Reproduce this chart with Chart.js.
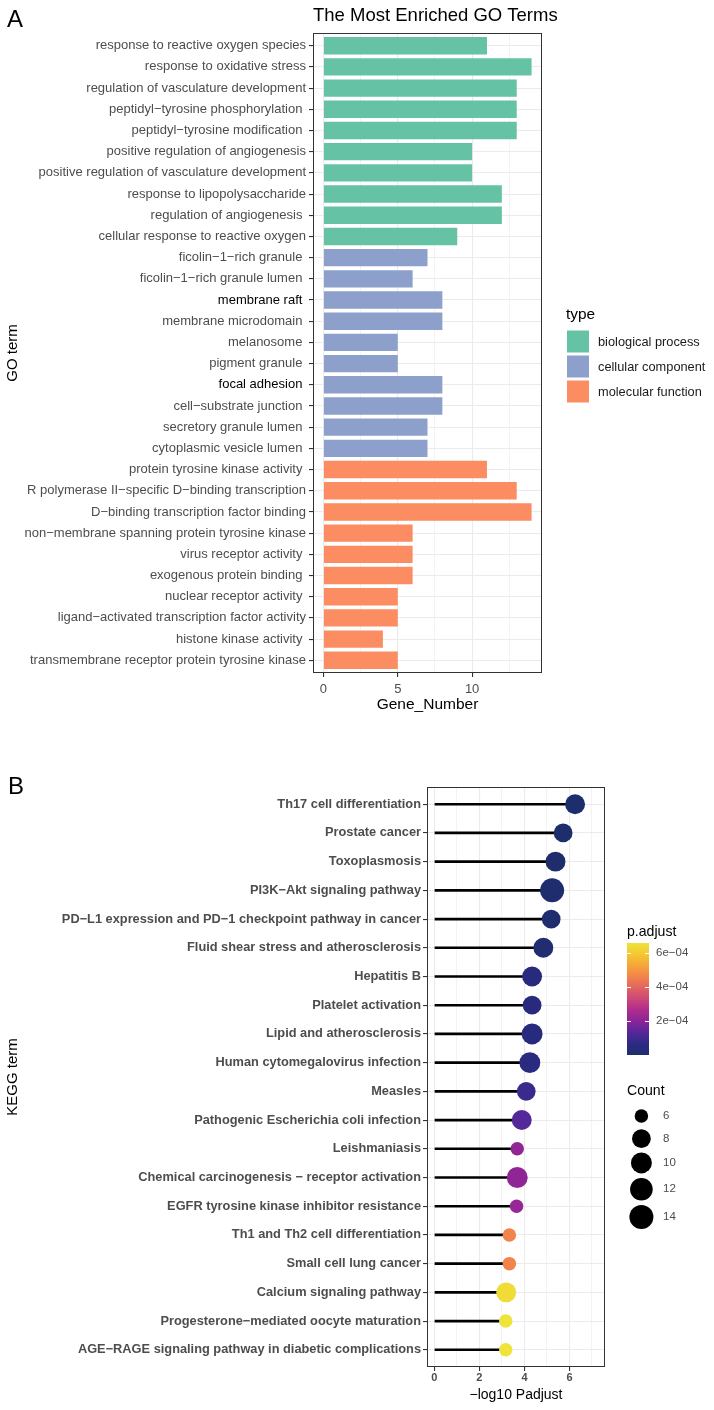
<!DOCTYPE html>
<html><head><meta charset="utf-8">
<script src="https://cdn.jsdelivr.net/npm/chart.js@4/dist/chart.umd.min.js"></script>
<style>
html,body{margin:0;padding:0;background:#fff;}
canvas{position:absolute;left:0;display:block;}
#cA{top:0;}
#cB{top:740px;}
</style></head><body>
<canvas id="cA" width="714" height="740"></canvas>
<canvas id="cB" width="714" height="670"></canvas>
<script>
// ---------------- DATA ----------------
const M = '\u2212';
const goTerms = [
  'response to reactive oxygen species','response to oxidative stress','regulation of vasculature development',
  'peptidyl'+M+'tyrosine phosphorylation ','peptidyl'+M+'tyrosine modification ','positive regulation of angiogenesis',
  'positive regulation of vasculature development','response to lipopolysaccharide','regulation of angiogenesis ',
  'cellular response to reactive oxygen','ficolin'+M+'1'+M+'rich granule ','ficolin'+M+'1'+M+'rich granule lumen ',
  'membrane raft ','membrane microdomain ','melanosome ','pigment granule ','focal adhesion ',
  'cell'+M+'substrate junction ','secretory granule lumen ','cytoplasmic vesicle lumen ',
  'protein tyrosine kinase activity ','R polymerase II'+M+'specific D'+M+'binding transcription',
  'D'+M+'binding transcription factor binding','non'+M+'membrane spanning protein tyrosine kinase',
  'virus receptor activity ','exogenous protein binding ','nuclear receptor activity ',
  'ligand'+M+'activated transcription factor activity','histone kinase activity ',
  'transmembrane receptor protein tyrosine kinase'
];
const goGeneNumber = [11,14,13,13,13,10,10,12,12,9, 7,6,8,8,5,5,8,8,7,7, 11,13,14,6,6,6,5,5,4,5];
const goType = [0,0,0,0,0,0,0,0,0,0, 1,1,1,1,1,1,1,1,1,1, 2,2,2,2,2,2,2,2,2,2];
const typeNames = ['biological process','cellular component','molecular function'];
const goXTicks = [0,5,10];
const goXMinor = [2.5,7.5,12.5];

const keggTerms = [
  'Th17 cell differentiation','Prostate cancer','Toxoplasmosis','PI3K'+M+'Akt signaling pathway',
  'PD'+M+'L1 expression and PD'+M+'1 checkpoint pathway in cancer','Fluid shear stress and atherosclerosis',
  'Hepatitis B','Platelet activation','Lipid and atherosclerosis','Human cytomegalovirus infection','Measles',
  'Pathogenic Escherichia coli infection','Leishmaniasis','Chemical carcinogenesis '+M+' receptor activation',
  'EGFR tyrosine kinase inhibitor resistance','Th1 and Th2 cell differentiation','Small cell lung cancer',
  'Calcium signaling pathway','Progesterone'+M+'mediated oocyte maturation',
  'AGE'+M+'RAGE signaling pathway in diabetic complications'
];
const keggNegLog10Padj = [6.25,5.72,5.38,5.23,5.19,4.84,4.34,4.34,4.34,4.24,4.08,3.88,3.68,3.68,3.65,3.33,3.33,3.19,3.17,3.17];
const keggPadjust = [5.6e-7,1.9e-6,4.2e-6,5.9e-6,6.5e-6,1.4e-5,4.6e-5,4.6e-5,4.6e-5,5.8e-5,9.0e-5,1.3e-4,2.1e-4,2.1e-4,2.2e-4,4.6e-4,4.6e-4,6.4e-4,6.6e-4,6.6e-4];
const keggCount = [9,8,9,14,8,9,9,8,10,10,8,9,6,10,6,6,6,9,6,6];
const keggXTicks = [0,2,4,6];
const keggXMinor = [1,3,5,7];
const countBreaks = [6,8,10,12,14];
const padjBreaks = [2e-4,4e-4,6e-4];
const padjBreakLabels = ['2e'+M+'04','4e'+M+'04','6e'+M+'04'];

// ---------------- STYLE ----------------
const FONT = "'Liberation Sans', Arial, Helvetica, sans-serif";
Chart.defaults.font.family = FONT;
const typeColors = ['#66C2A5','#8DA0CB','#FC8D62'];
const darkLabels = new Set(['membrane raft ','focal adhesion ']);
const GRID = '#EBEBEB', TICK = '#333333', AXT = '#4D4D4D';
const gradStops = [[0,'#1E2D6C'],[0.1,'#2D2A84'],[0.2,'#55289A'],[0.3,'#8A2597'],[0.4,'#AE2C8E'],
  [0.5,'#CC4778'],[0.6,'#E16462'],[0.7,'#F2844B'],[0.8,'#F6A53A'],[0.9,'#F4C730'],[1,'#EEE43A']];
const pMin = Math.min(...keggPadjust), pMax = Math.max(...keggPadjust);
function hex(c){return [parseInt(c.slice(1,3),16),parseInt(c.slice(3,5),16),parseInt(c.slice(5,7),16)];}
function gradColor(t){
  t = Math.max(0, Math.min(1, t));
  for (let i=1;i<gradStops.length;i++){
    if (t <= gradStops[i][0]){
      const [t0,c0]=gradStops[i-1],[t1,c1]=gradStops[i];
      const f=(t-t0)/(t1-t0), a=hex(c0), b=hex(c1);
      return 'rgb('+a.map((v,k)=>Math.round(v+(b[k]-v)*f)).join(',')+')';
    }
  }
  return gradStops[gradStops.length-1][1];
}
const padjT = p => (p - pMin) / (pMax - pMin);
const countDiam = c => 13.5 + 10.5*Math.sqrt((c-6)/8);

function txt(ctx, s, x, y, size, color, align, weight){
  ctx.save();
  ctx.font = (weight?weight+' ':'') + size + 'px ' + FONT;
  ctx.fillStyle = color; ctx.textAlign = align || 'left'; ctx.textBaseline = 'middle';
  ctx.fillText(s, x, y); ctx.restore();
}
function frame(chart){
  const {ctx, chartArea:a} = chart;
  ctx.save(); ctx.strokeStyle = TICK; ctx.lineWidth = 1;
  ctx.strokeRect(Math.round(a.left)+0.5, Math.round(a.top)+0.5, Math.round(a.right-a.left)-1, Math.round(a.bottom-a.top)-1);
  ctx.restore();
}

// ---------------- PANEL A ----------------
const pluginA = {
  id:'decorA',
  afterDraw(chart){
    const ctx = chart.ctx;
    frame(chart);
    txt(ctx,'A',7,20,24,'#000','left');
    txt(ctx,'The Most Enriched GO Terms',313,16,18.5,'#000','left');
    txt(ctx,'type',566,315,15.4,'#000','left');
    const keyY = [330,355,380];
    typeNames.forEach((n,i)=>{
      ctx.fillStyle = typeColors[i];
      ctx.fillRect(567, keyY[i]+0.5, 22, 22);
      txt(ctx,n,598,keyY[i]+12,12.8,'#1A1A1A','left');
    });
  }
};
new Chart(document.getElementById('cA'), {
  type:'bar',
  data:{datasets:[{
    data: goTerms.map((t,i)=>({x:goGeneNumber[i], y:i})),
    backgroundColor: goType.map(k=>typeColors[k]),
    borderWidth:0, barPercentage:0.82, categoryPercentage:1
  }]},
  options:{
    indexAxis:'y', responsive:false, animation:false, devicePixelRatio:1,
    layout:{padding:{left:0,right:172,top:33,bottom:0}},
    plugins:{legend:{display:false}, tooltip:{enabled:false}, title:{display:false}},
    scales:{
      x:{type:'linear', position:'bottom', min:-0.7, max:14.7, offset:false,
        afterBuildTicks:s=>{s.ticks=[...goXTicks,...goXMinor].sort((a,b)=>a-b).map(v=>({value:v}));},
        ticks:{callback:v=>goXTicks.includes(v)?String(v):'', autoSkip:false, maxRotation:0, font:{size:13}, color:AXT, padding:5},
        grid:{offset:false, color:GRID, lineWidth:c=>goXTicks.includes(c.tick&&c.tick.value)?1.1:0.6,
          tickColor:c=>goXTicks.includes(c.tick&&c.tick.value)?TICK:'rgba(0,0,0,0)', tickLength:4},
        border:{display:false},
        title:{display:true, text:'Gene_Number', color:'#000', font:{size:15.5,lineHeight:1.2}, padding:{top:0,bottom:26}},
        afterFit:s=>{s.height=67;}
      },
      y:{type:'linear', position:'left', reverse:true, min:-0.6, max:goTerms.length-0.4, offset:false,
        afterBuildTicks:s=>{s.ticks=goTerms.map((_,i)=>({value:i}));},
        ticks:{callback:v=>goTerms[v], autoSkip:false, font:{size:13}, padding:3,
          color:c=>darkLabels.has(goTerms[c.tick.value])?'#000':AXT},
        grid:{offset:false, color:GRID, lineWidth:1.1, tickColor:TICK, tickLength:4},
        border:{display:false},
        title:{display:true, text:'GO term', color:'#000', font:{size:15,lineHeight:1.2}, padding:{top:4,bottom:0}},
        afterFit:s=>{s.width=313;}
      }
    }
  },
  plugins:[pluginA]
});

// ---------------- PANEL B ----------------
const pluginB = {
  id:'decorB',
  afterDraw(chart){
    const ctx = chart.ctx;
    frame(chart);
    txt(ctx,'B',8,47,24,'#000','left');
    // colour bar
    txt(ctx,'p.adjust',627,192,14.1,'#000','left');
    const cbTop=203, cbBot=315, cbL=627, cbW=22;
    for (let y=cbTop; y<cbBot; y++){
      ctx.fillStyle = gradColor((cbBot-(y+0.5))/(cbBot-cbTop));
      ctx.fillRect(cbL, y, cbW, 1);
    }
    padjBreaks.forEach((p,i)=>{
      const y = cbBot - padjT(p)*(cbBot-cbTop);
      ctx.strokeStyle='#fff'; ctx.lineWidth=1;
      ctx.beginPath(); ctx.moveTo(cbL,Math.round(y)+0.5); ctx.lineTo(cbL+4,Math.round(y)+0.5);
      ctx.moveTo(cbL+cbW-4,Math.round(y)+0.5); ctx.lineTo(cbL+cbW,Math.round(y)+0.5); ctx.stroke();
      txt(ctx,padjBreakLabels[i],656,y,11.5,AXT,'left');
    });
    // size legend
    txt(ctx,'Count',627,351,14.1,'#000','left');
    let y = 376, prevH = null;
    countBreaks.forEach((c,i)=>{
      const d = countDiam(c), h = Math.max(22, d+4.5);
      if (prevH!==null) y += (prevH+h)/2;
      ctx.fillStyle='#000'; ctx.beginPath(); ctx.arc(641.4, y, d/2, 0, Math.PI*2); ctx.fill();
      txt(ctx,String(c),663,y,11.5,AXT,'left');
      prevH = h;
    });
  }
};
new Chart(document.getElementById('cB'), {
  type:'bar',
  data:{datasets:[
    { type:'bar', indexAxis:'y', order:2,
      data: keggTerms.map((t,i)=>({x:keggNegLog10Padj[i], y:i})),
      backgroundColor:'#000', borderWidth:0, barThickness:2 },
    { type:'bubble', order:1,
      data: keggTerms.map((t,i)=>({x:keggNegLog10Padj[i], y:i, r:countDiam(keggCount[i])/2})),
      backgroundColor: keggPadjust.map(p=>gradColor(padjT(p))), borderWidth:0, hoverRadius:0 }
  ]},
  options:{
    responsive:false, animation:false, devicePixelRatio:1,
    layout:{padding:{left:0,right:109,top:47,bottom:0}},
    plugins:{legend:{display:false}, tooltip:{enabled:false}},
    scales:{
      x:{type:'linear', position:'bottom', min:-0.33, max:7.58, offset:false,
        afterBuildTicks:s=>{s.ticks=[...keggXTicks,...keggXMinor].sort((a,b)=>a-b).map(v=>({value:v}));},
        ticks:{callback:v=>keggXTicks.includes(v)?String(v):'', autoSkip:false, maxRotation:0, font:{size:11,weight:'bold'}, color:AXT, padding:0},
        grid:{offset:false, color:GRID, lineWidth:c=>keggXTicks.includes(c.tick&&c.tick.value)?1.1:0.6,
          tickColor:c=>keggXTicks.includes(c.tick&&c.tick.value)?TICK:'rgba(0,0,0,0)', tickLength:4},
        border:{display:false},
        title:{display:true, text:M+'log10 Padjust', color:'#000', font:{size:14,lineHeight:1.2}, padding:{top:0,bottom:6}},
        afterFit:s=>{s.height=43;}
      },
      y:{type:'linear', position:'left', reverse:true, min:-0.6, max:keggTerms.length-0.4, offset:false,
        afterBuildTicks:s=>{s.ticks=keggTerms.map((_,i)=>({value:i}));},
        ticks:{callback:v=>keggTerms[v], autoSkip:false, font:{size:12.8,weight:'bold'}, color:AXT, padding:2},
        grid:{offset:false, color:GRID, lineWidth:1.1, tickColor:TICK, tickLength:4},
        border:{display:false},
        title:{display:true, text:'KEGG term', color:'#000', font:{size:15,lineHeight:1.2}, padding:{top:4,bottom:0}},
        afterFit:s=>{s.width=427;}
      }
    }
  },
  plugins:[pluginB]
});
</script>
</body></html>
